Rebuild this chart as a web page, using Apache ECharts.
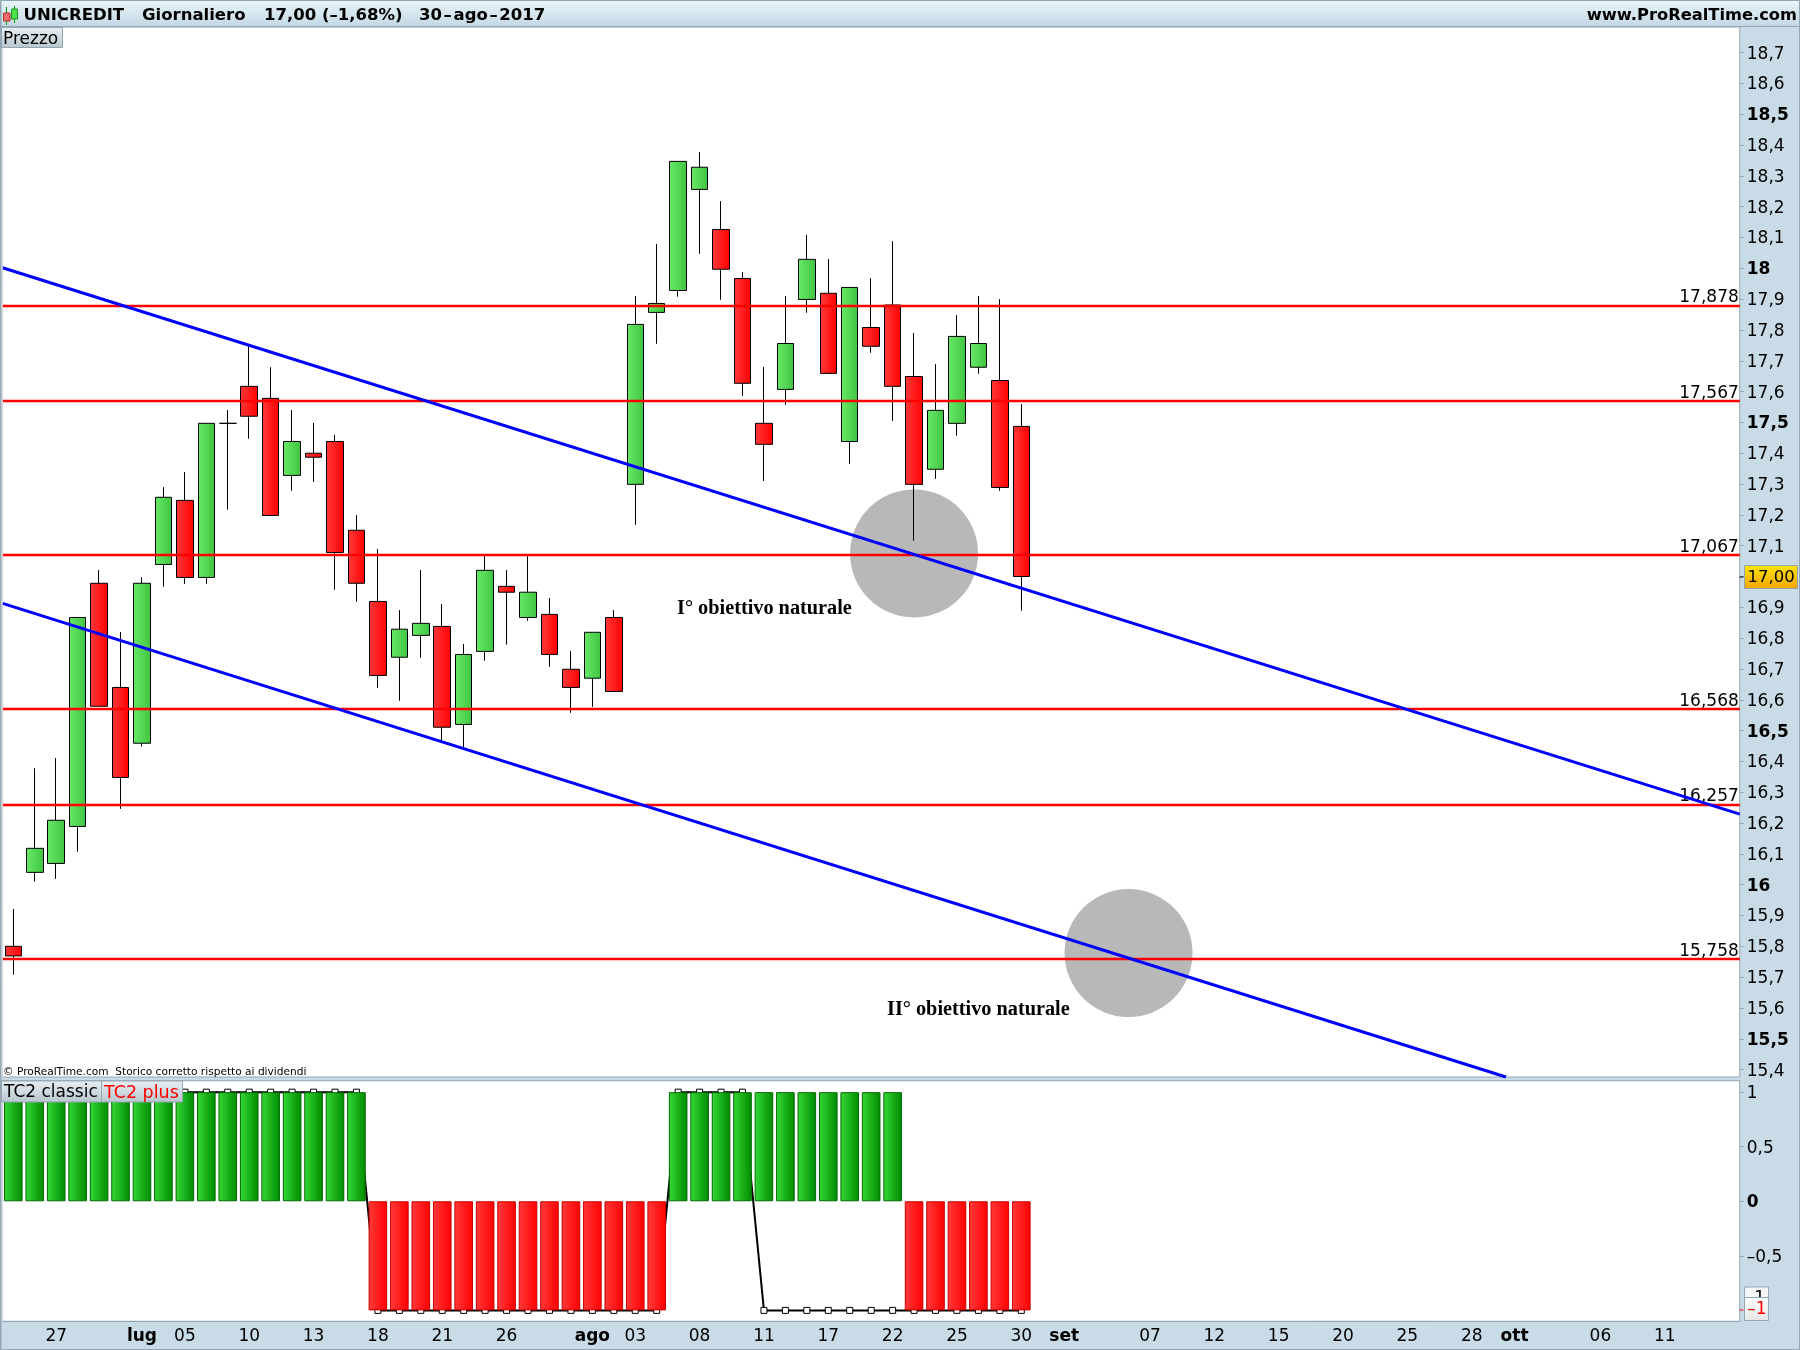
<!DOCTYPE html>
<html>
<head>
<meta charset="utf-8">
<title>UNICREDIT</title>
<style>
  html, body { margin: 0; padding: 0; background: #fff; }
  #main { width: 1800px; height: 1350px; }
</style>
<script src="https://cdn.jsdelivr.net/npm/echarts@6/dist/echarts.min.js"></script>
</head>
<body>
<div id="main"></div>
<script>
// trading days, then the empty days the axis still shows to the right
const days = [
  '23/06', '26/06', '27/06', '28/06', '29/06', '30/06',
  '03/07', '04/07', '05/07', '06/07', '07/07', '10/07', '11/07', '12/07', '13/07', '14/07',
  '17/07', '18/07', '19/07', '20/07', '21/07', '24/07', '25/07', '26/07', '27/07', '28/07', '31/07',
  '01/08', '02/08', '03/08', '04/08', '07/08', '08/08', '09/08', '10/08', '11/08',
  '14/08', '16/08', '17/08', '18/08', '21/08', '22/08', '23/08', '24/08', '25/08',
  '28/08', '29/08', '30/08', '31/08', '01/09',
  '04/09', '05/09', '06/09', '07/09', '08/09', '11/09', '12/09', '13/09', '14/09', '15/09',
  '18/09', '19/09', '20/09', '21/09', '22/09', '25/09', '26/09', '27/09', '28/09', '29/09',
  '02/10', '03/10', '04/10', '05/10', '06/10', '09/10', '10/10', '11/10', '12/10', '13/10', '16/10'
];

const opens = [
  15.800, 16.040, 16.069, 16.189, 16.978, 16.640, 16.459, 17.039, 17.247, 16.997,
  17.497, 17.617, 17.578, 17.328, 17.400, 17.438, 17.150, 16.919, 16.738, 16.809,
  16.838, 16.520, 16.757, 16.968, 16.867, 16.877, 16.699, 16.670, 16.867, 17.299,
  17.857, 17.928, 18.256, 18.126, 17.967, 17.497, 17.607, 17.899, 17.919, 17.438,
  17.808, 17.881, 17.649, 17.348, 17.497, 17.679, 17.636, 17.487
];
const closes = [
  15.769, 16.118, 16.209, 16.867, 16.579, 16.348, 16.978, 17.257, 16.997, 17.497,
  17.497, 17.520, 17.198, 17.438, 17.387, 17.078, 16.978, 16.679, 16.829, 16.848,
  16.511, 16.747, 17.020, 16.949, 16.949, 16.747, 16.640, 16.819, 16.627, 17.818,
  17.886, 18.347, 18.328, 17.997, 17.627, 17.429, 17.756, 18.029, 17.659, 17.938,
  17.747, 17.617, 17.299, 17.539, 17.779, 17.756, 17.289, 17.000
];
const lows = [
  15.708, 16.010, 16.019, 16.107, 16.579, 16.246, 16.448, 16.967, 16.976, 16.976,
  17.217, 17.447, 17.198, 17.278, 17.307, 16.957, 16.918, 16.639, 16.597, 16.736,
  16.463, 16.442, 16.727, 16.779, 16.856, 16.707, 16.558, 16.577, 16.627, 17.168,
  17.755, 17.908, 18.047, 17.898, 17.586, 17.310, 17.557, 17.856, 17.659, 17.366,
  17.726, 17.505, 17.116, 17.317, 17.457, 17.658, 17.278, 16.889
];
const highs = [
  15.921, 16.378, 16.411, 16.867, 17.021, 16.820, 16.998, 17.290, 17.339, 17.497,
  17.540, 17.749, 17.679, 17.540, 17.498, 17.459, 17.199, 17.089, 16.891, 17.021,
  16.911, 16.781, 17.066, 17.021, 17.066, 16.930, 16.758, 16.819, 16.891, 17.910,
  18.079, 18.347, 18.377, 18.218, 17.988, 17.680, 17.910, 18.108, 18.030, 17.938,
  17.968, 18.088, 17.790, 17.689, 17.848, 17.910, 17.900, 17.560
];

// horizontal levels drawn by hand on the original
const levels = [17.878, 17.567, 17.067, 16.568, 16.257, 15.758];
// trend lines, as [bar number, price]
const trendA = [[-0.5, 18.002], [80.5, 16.229]];
const trendB = [[-0.5, 16.913], [69.6, 15.376]];
// the two "obiettivo" circles, as [bar number, price]
const targets = [[42, 17.075], [52, 15.778]];

const tc2Plus = [
  1, 1, 1, 1, 1, 1, 1, 1, 1, 1, 1, 1, 1, 1, 1, 1, 1,
  -1, -1, -1, -1, -1, -1, -1, -1, -1, -1, -1, -1, -1, -1,
  1, 1, 1, 1, 1, 1, 1, 1, 1, 1, 1,
  -1, -1, -1, -1, -1, -1
];
const tc2Classic = [
  1, 1, 1, 1, 1, 1, 1, 1, 1, 1, 1, 1, 1, 1, 1, 1, 1,
  -1, -1, -1, -1, -1, -1, -1, -1, -1, -1, -1, -1, -1, -1,
  1, 1, 1, 1,
  -1, -1, -1, -1, -1, -1, -1, -1, -1, -1, -1, -1, -1
];

const priceTicks = [
  15.4, 15.5, 15.6, 15.7, 15.8, 15.9, 16, 16.1, 16.2, 16.3, 16.4, 16.5, 16.6, 16.7, 16.8, 16.9,
  17, 17.1, 17.2, 17.3, 17.4, 17.5, 17.6, 17.7, 17.8, 17.9, 18, 18.1, 18.2, 18.3, 18.4, 18.5, 18.6, 18.7
];
const indicatorTicks = [1, 0.5, 0, -0.5];
const timeTickDays = [
  '27/06', '03/07', '05/07', '10/07', '13/07', '18/07', '21/07', '26/07', '01/08', '03/08', '08/08',
  '11/08', '17/08', '22/08', '25/08', '30/08', '01/09', '07/09', '12/09', '15/09', '20/09', '25/09',
  '28/09', '02/10', '06/10', '11/10'
];
const timeTickTexts = [
  '27', 'lug', '05', '10', '13', '18', '21', '26', 'ago', '03', '08',
  '11', '17', '22', '25', '30', 'set', '07', '12', '15', '20', '25',
  '28', 'ott', '06', '11'
];

const FONT = '"DejaVu Sans"';
const STRIP = '#c9dbe6';
const EDGE = '#94a6b2';

function gradient(from, to) {
  return {
    type: 'linear', x: 0, y: 0, x2: 1, y2: 0,
    colorStops: [{ offset: 0, color: from }, { offset: 1, color: to }]
  };
}
function vGradient(from, to) {
  return {
    type: 'linear', x: 0, y: 0, x2: 0, y2: 1,
    colorStops: [{ offset: 0, color: from }, { offset: 1, color: to }]
  };
}
function comma(v) {
  return String(v).replace('.', ',').replace('-', '\u2013');
}
function isTimeTick(index, value) {
  return timeTickDays.indexOf(value) >= 0;
}

const candles = opens.map(function (o, i) {
  return [o, closes[i], lows[i], highs[i]];
});

const greenBar = {
  color: gradient('#35d935', '#008a00'), borderColor: '#006b00', borderWidth: 1
};
const redBar = {
  color: gradient('#ff3b3b', '#ff0000'), borderColor: '#cc0000', borderWidth: 1
};

function label(text, x, y, font, fill, align, z) {
  return {
    type: 'text', z: z || 100, silent: true,
    style: { text: text, x: x, y: y, font: font, fill: fill || '#000', textAlign: align || 'left', textVerticalAlign: 'middle' }
  };
}
function box(x, y, w, h, fill, stroke, z) {
  return {
    type: 'rect', z: z || 90, silent: true,
    shape: { x: x, y: y, width: w, height: h },
    style: { fill: fill, stroke: stroke || null, lineWidth: stroke ? 1 : 0 }
  };
}

const titleFont = 'bold 16.5px ' + FONT;
const chipFill = vGradient('#e8f0f4', '#b7c5ce');

const overlay = [
  // window title bar
  box(0, 0, 1800, 26.5, vGradient('#e9f6fb', '#c3d7e3')),
  box(0, 26, 1800, 1, EDGE),
  box(0, 0, 1800, 1, EDGE),
  box(1.5, 27, 1.1, 1050, '#fff'),
  box(1.5, 1081, 1.1, 240, '#fff'),
  box(0, 0, 1.5, 1350, EDGE),
  box(1799, 0, 1, 1350, EDGE),
  box(0, 1349, 1800, 1, EDGE),
  // little candles icon
  box(6, 7, 1, 18, '#00a000'), box(14, 6, 1, 17, '#00a000'),
  box(3.5, 13, 6.5, 8, '#ef6a6a', '#b03030'), box(11.5, 9, 6, 10, '#4fe04f', '#1a9a1a'),
  label('UNICREDIT', 23.5, 15.8, titleFont),
  label('Giornaliero', 142, 15.8, titleFont),
  label('17,00 (\u20131,68%)', 264, 15.8, titleFont),
  label('30\u200a\u2013\u200aago\u200a\u2013\u200a2017', 419, 15.8, titleFont),
  label('www.ProRealTime.com', 1797, 15.8, 'bold 16.3px ' + FONT, '#000', 'right'),
  // pane name chips
  box(1.5, 27.5, 61, 20, chipFill, EDGE),
  label('Prezzo', 3, 39.5, '17px ' + FONT),
  box(1.5, 1081, 100, 21, chipFill, EDGE),
  label('TC2 classic', 4, 1093, '17px ' + FONT),
  box(101.5, 1081, 81, 21, chipFill, EDGE),
  label('TC2 plus', 104, 1093, '17.5px ' + FONT, '#ff0000'),
  label('\u00a9 ProRealTime.com  Storico corretto rispetto ai dividendi', 3, 1072, '10.6px ' + FONT),
  // notes on the chart
  label('I\u00b0 obiettivo naturale', 677, 609, 'bold 20.3px "Liberation Serif"'),
  label('II\u00b0 obiettivo naturale', 887, 1010, 'bold 20.3px "Liberation Serif"'),
  // last price flag
  box(1739.5, 576.5, 4, 1, '#000'),
  box(1744.5, 565.5, 53, 23, vGradient('#ffe40a', '#f0a500'), '#93a4af'),
  label('17,00', 1747.5, 578, '16.5px ' + FONT),
  // last indicator values
  box(1744.5, 1287, 24, 11, '#f4f6f7', EDGE, 70),
  label('1', 1765, 1299, '17px ' + FONT, '#000', 'right', 80),
  box(1744.5, 1297.5, 24, 23, vGradient('#ffffff', '#e6e6e6'), EDGE),
  box(1739.5, 1309.5, 4, 1, '#ff0000'),
  label('\u20131', 1766.5, 1310, '17px ' + FONT, '#ff0000', 'right')
];

const chart = echarts.init(document.getElementById('main'));

chart.setOption({
  animation: false,
  backgroundColor: STRIP,
  textStyle: { fontFamily: FONT },
  grid: [
    { left: 2.58, top: 27, width: 1737.2, height: 1050, show: true, backgroundColor: '#fff', borderColor: EDGE, borderWidth: 1 },
    { left: 2.58, top: 1080.7, width: 1737.2, height: 240.6, show: true, backgroundColor: '#fff', borderColor: EDGE, borderWidth: 1 }
  ],
  xAxis: [
    { type: 'category', gridIndex: 0, data: days, show: false },
    {
      type: 'category', gridIndex: 1, data: days, position: 'bottom',
      axisLine: { onZero: false, lineStyle: { color: EDGE } },
      axisTick: { interval: isTimeTick, alignWithLabel: true, length: 4, lineStyle: { color: EDGE } },
      axisLabel: {
        interval: isTimeTick, margin: 7, fontSize: 17, color: '#000', fontFamily: FONT,
        formatter: function (value) {
          const t = timeTickTexts[timeTickDays.indexOf(value)];
          return /^[a-z]/.test(t) ? '{b|' + t + '}' : t;
        },
        rich: { b: { fontWeight: 'bold', fontSize: 17, fontFamily: FONT, color: '#000' } }
      }
    },
    { type: 'value', gridIndex: 0, min: -0.5, max: 80.5, show: false }
  ],
  yAxis: [
    {
      type: 'value', gridIndex: 0, position: 'right', min: 15.376, max: 18.783,
      splitLine: { show: false },
      axisLine: { show: false, onZero: false },
      axisTick: { show: true, length: 4, customValues: priceTicks, lineStyle: { color: EDGE } },
      axisLabel: {
        customValues: priceTicks, margin: 7, padding: [3, 0, 0, 0], fontSize: 17, color: '#000', fontFamily: FONT,
        formatter: function (v) {
          const bold = Math.abs(v * 2 - Math.round(v * 2)) < 1e-6;
          return bold ? '{b|' + comma(v) + '}' : comma(v);
        },
        rich: { b: { fontWeight: 'bold', fontSize: 17, fontFamily: FONT, color: '#000' } }
      }
    },
    {
      type: 'value', gridIndex: 1, position: 'right', min: -1.1, max: 1.105,
      splitLine: { show: false },
      axisLine: { show: false, onZero: false },
      axisTick: { show: true, length: 4, customValues: indicatorTicks, lineStyle: { color: EDGE } },
      axisLabel: {
        customValues: indicatorTicks, margin: 7, padding: [3, 0, 0, 0], fontSize: 17, color: '#000', fontFamily: FONT,
        formatter: function (v) {
          return v === 0 ? '{b|0}' : comma(v);
        },
        rich: { b: { fontWeight: 'bold', fontSize: 17, fontFamily: FONT, color: '#000' } }
      }
    }
  ],
  series: [
    {
      type: 'scatter', name: 'obiettivi', xAxisIndex: 2, yAxisIndex: 0, z: 1, silent: true,
      data: targets, symbol: 'circle', symbolSize: 128,
      itemStyle: { color: '#b8b8b8', opacity: 1 }
    },
    {
      type: 'candlestick', name: 'Prezzo', xAxisIndex: 0, yAxisIndex: 0, z: 2,
      data: candles, barWidth: 17,
      itemStyle: {
        color: gradient('#68ea68', '#40c440'),
        color0: gradient('#ff3a3a', '#ff0000'),
        borderColor: '#000', borderColor0: '#000', borderColorDoji: '#000', borderWidth: 1
      },
      markLine: {
        silent: true, symbol: 'none', z: 5, animation: false,
        lineStyle: { color: '#ff0000', width: 2.4, type: 'solid' },
        label: {
          position: 'insideEndTop', distance: -1, padding: [0, 2, 0, 0], fontSize: 17, color: '#000', fontFamily: FONT,
          formatter: function (p) { return comma(levels[p.dataIndex]); }
        },
        data: levels.map(function (v) { return { yAxis: v }; })
      }
    },
    {
      type: 'line', name: 'trend A', xAxisIndex: 2, yAxisIndex: 0, z: 6, silent: true,
      data: trendA, showSymbol: false, lineStyle: { color: '#0000ff', width: 3 }
    },
    {
      type: 'line', name: 'trend B', xAxisIndex: 2, yAxisIndex: 0, z: 6, silent: true,
      data: trendB, showSymbol: false, lineStyle: { color: '#0000ff', width: 3 }
    },
    {
      type: 'line', name: 'TC2 classic', xAxisIndex: 1, yAxisIndex: 1, z: 2, silent: true,
      data: tc2Classic, symbol: 'rect', symbolSize: 6, showAllSymbol: true,
      lineStyle: { color: '#000', width: 2 },
      itemStyle: { color: '#fff', borderColor: '#000', borderWidth: 1 }
    },
    {
      type: 'bar', name: 'TC2 plus', xAxisIndex: 1, yAxisIndex: 1, z: 3, silent: true, barWidth: 18.6,
      data: tc2Plus.map(function (v) {
        return { value: v, itemStyle: v > 0 ? greenBar : redBar };
      })
    }
  ],
  graphic: { elements: overlay }
});
</script>
</body>
</html>
